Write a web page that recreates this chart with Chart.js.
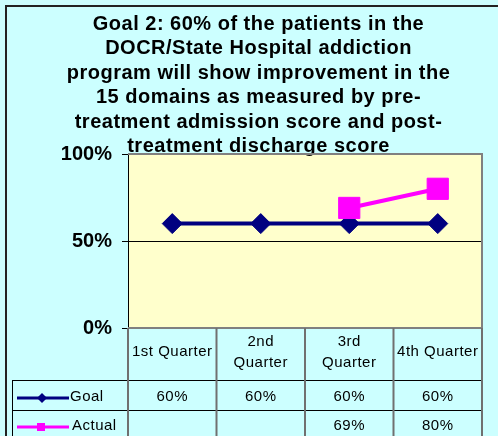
<!DOCTYPE html>
<html>
<head>
<meta charset="utf-8">
<script src="https://cdn.jsdelivr.net/npm/chart.js@4/dist/chart.umd.min.js"></script>
<style>
  html, body { margin: 0; padding: 0; background: #CCFFFF; }
  #wrap { width: 498px; height: 436px; }
</style>
</head>
<body>
<div id="wrap"><canvas id="goal-chart" width="498" height="436"></canvas></div>
<script>
// 数据
const titleLines = [
    'Goal 2: 60% of the patients in the',
    'DOCR/State Hospital addiction',
    'program will show improvement in the',
    '15 domains as measured by pre-',
    'treatment admission score and post-',
    'treatment discharge score'
];
const quarters = [['1st Quarter'], ['2nd', 'Quarter'], ['3rd', 'Quarter'], ['4th Quarter']];
const goalValues = [0.60, 0.60, 0.60, 0.60];
const actualValues = [null, null, 0.69, 0.80];
const yTicks = [0, 0.5, 1];

const FONT = "Arial, 'Liberation Sans', sans-serif";
const pct = v => (v === null ? '' : Math.round(v * 100) + '%');

// 背景、边框、标题
const backdrop = {
    id: 'backdrop',
    beforeDraw(chart) {
        const { ctx, chartArea: a } = chart;
        ctx.save();
        ctx.fillStyle = '#CCFFFF';
        ctx.fillRect(0, 0, chart.width, chart.height);
        ctx.fillStyle = '#222';
        ctx.fillRect(5, 5, 2, chart.height);
        ctx.fillRect(5, 5, chart.width, 2);
        ctx.fillStyle = '#FFFFCC';
        ctx.fillRect(a.left, a.top, a.right - a.left, a.bottom - a.top);

        ctx.fillStyle = '#000';
        ctx.font = 'bold 20px ' + FONT;
        ctx.letterSpacing = '0.5px';
        ctx.textAlign = 'center';
        ctx.textBaseline = 'alphabetic';
        titleLines.forEach((line, i) => ctx.fillText(line, 258.5, 30 + i * 24.4));
        ctx.restore();
    },
    beforeDatasetsDraw(chart) {
        const { ctx, chartArea: a } = chart;
        ctx.save();
        ctx.strokeStyle = '#808080';
        ctx.lineWidth = 2;
        ctx.beginPath();
        ctx.moveTo(a.left, a.top);
        ctx.lineTo(a.right, a.top);
        ctx.lineTo(a.right, a.bottom);
        ctx.lineTo(a.left, a.bottom);
        ctx.stroke();
        ctx.restore();
    }
};

// 数据表
const dataTable = {
    id: 'dataTable',
    afterDraw(chart) {
        const { ctx, chartArea: a } = chart;
        const x = chart.scales.x;
        const colW = (a.right - a.left) / quarters.length;
        const headBottom = a.bottom + 52;
        const goalBottom = headBottom + 30;
        const goalMid = headBottom + 17;
        const actualMid = goalBottom + 15.5;
        ctx.save();

        ctx.strokeStyle = '#000';
        ctx.lineWidth = 1;
        ctx.beginPath();
        ctx.moveTo(12, headBottom + 0.5); ctx.lineTo(a.right, headBottom + 0.5);
        ctx.moveTo(12, goalBottom + 0.5); ctx.lineTo(a.right, goalBottom + 0.5);
        ctx.moveTo(12.5, headBottom); ctx.lineTo(12.5, chart.height);
        ctx.stroke();

        ctx.strokeStyle = '#707070';
        ctx.lineWidth = 2;
        ctx.beginPath();
        for (let i = 0; i <= quarters.length; i++) {
            const bx = a.left + i * colW;
            ctx.moveTo(bx, a.bottom); ctx.lineTo(bx, chart.height);
        }
        ctx.stroke();

        ctx.fillStyle = '#000';
        ctx.font = '15px ' + FONT;
        ctx.letterSpacing = '0.5px';
        ctx.textAlign = 'center';
        ctx.textBaseline = 'middle';
        quarters.forEach((lines, i) => {
            const cx = x.getPixelForValue(i);
            if (lines.length === 1) {
                ctx.fillText(lines[0], cx, a.bottom + 24);
            } else {
                ctx.fillText(lines[0], cx, a.bottom + 14);
                ctx.fillText(lines[1], cx, a.bottom + 35);
            }
            ctx.fillText(pct(goalValues[i]), cx, goalMid);
            ctx.fillText(pct(actualValues[i]), cx, actualMid);
        });

        // 图例
        ctx.lineWidth = 3;
        ctx.strokeStyle = '#000080';
        ctx.beginPath(); ctx.moveTo(17, goalMid + 1); ctx.lineTo(69, goalMid + 1); ctx.stroke();
        ctx.fillStyle = '#000080';
        ctx.beginPath();
        ctx.moveTo(42 - 5, goalMid + 1); ctx.lineTo(42, goalMid - 4);
        ctx.lineTo(42 + 5, goalMid + 1); ctx.lineTo(42, goalMid + 6);
        ctx.closePath(); ctx.fill();

        ctx.strokeStyle = '#FF00FF';
        ctx.beginPath(); ctx.moveTo(17, actualMid + 1.5); ctx.lineTo(69, actualMid + 1.5); ctx.stroke();
        ctx.fillStyle = '#FF00FF';
        ctx.fillRect(37, actualMid - 2.5, 8, 8);

        ctx.fillStyle = '#000';
        ctx.textAlign = 'left';
        ctx.fillText('Goal', 70, goalMid);
        ctx.fillText('Actual', 72, actualMid);
        ctx.restore();
    }
};

const goalChart = new Chart(document.getElementById('goal-chart'), {
    type: 'line',
    data: {
        labels: quarters.map(q => q.join(' ')),
        datasets: [
            {
                label: 'Goal',
                data: goalValues,
                order: 1,
                borderColor: '#000080',
                backgroundColor: '#000080',
                borderWidth: 4,
                pointStyle: 'rectRot',
                pointRadius: 10,
                pointBorderWidth: 1,
                pointBackgroundColor: '#000080',
                pointBorderColor: '#000080'
            },
            {
                label: 'Actual',
                data: actualValues,
                order: 0,
                borderColor: '#FF00FF',
                backgroundColor: '#FF00FF',
                borderWidth: 4,
                pointStyle: 'rect',
                pointRadius: 15,
                pointBorderWidth: 1,
                pointBackgroundColor: '#FF00FF',
                pointBorderColor: '#FF00FF'
            }
        ]
    },
    options: {
        responsive: false,
        animation: false,
        devicePixelRatio: 1,
        layout: { padding: { left: 10, top: 154, right: 10, bottom: 108 } },
        scales: {
            x: {
                display: false,
                offset: true
            },
            y: {
                min: 0,
                max: 1,
                afterFit: scale => { scale.width = 118; },
                afterBuildTicks: scale => { scale.ticks = yTicks.map(v => ({ value: v })); },
                ticks: {
                    padding: 10,
                    color: '#000',
                    font: { family: FONT, size: 20, weight: 'bold' },
                    callback: v => pct(v)
                },
                grid: {
                    color: (context) => context.tick && context.tick.value === 0.5 ? '#000' : 'rgba(0,0,0,0)',
                    tickColor: '#000',
                    tickLength: 6,
                    lineWidth: 1
                },
                border: { color: '#000', width: 1 }
            }
        },
        plugins: {
            legend: { display: false },
            tooltip: { enabled: false }
        }
    },
    plugins: [backdrop, dataTable]
});
</script>
</body>
</html>
